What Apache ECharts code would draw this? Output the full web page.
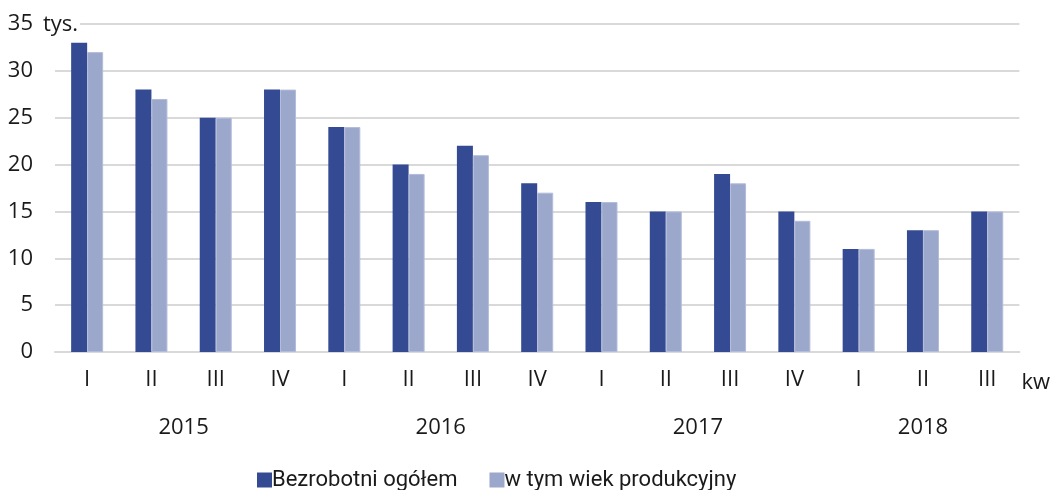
<!DOCTYPE html>
<html><head><meta charset="utf-8">
<script src="https://cdn.jsdelivr.net/npm/echarts@6/dist/echarts.min.js"></script>
<style>html,body{margin:0;padding:0;background:#fff}#c{width:1053px;height:490px}</style>
</head><body><div id="c"></div>
<script>
const quarters = ['I','II','III','IV','I','II','III','IV','I','II','III','IV','I','II','III'];
const years = ['2015','2016','2017','2018'];
const quartersPerYear = [4,4,4,3];
const yTicks = [0,5,10,15,20,25,30,35];
const bezrobotni = [33,28,25,28,24,20,22,18,16,15,19,15,11,13,15];
const wiekProdukcyjny = [32,27,25,28,24,19,21,17,16,15,18,14,11,13,15];

// year label positions = centre of each year's quarter span (in category units)
const yearPos = {};
let acc = 0;
quartersPerYear.forEach((n,i)=>{ yearPos[(acc + n/2).toFixed(1)] = years[i]; acc += n; });

const axisFont = {fontFamily:'Open Sans', fontSize:22, color:'#1a1a1a'};
const chart = echarts.init(document.getElementById('c'));
chart.setOption({
  animation:false,
  grid:{left:55, right:33, top:24, bottom:138},
  legend:{
    top:464, left:252, itemWidth:15, itemHeight:15, itemGap:32,
    icon:'rect', itemStyle:{borderWidth:0},
    textStyle:{fontFamily:'Roboto', fontSize:22, color:'#1a1a1a', padding:[0,0,0,-5]},
    data:['Bezrobotni ogółem','w tym wiek produkcyjny']
  },
  graphic:[{
    type:'text', left:41, top:14, z:100,
    style:{text:'tys.', font:'22px "Open Sans"', fill:'#1a1a1a', backgroundColor:'#fff', padding:[0,2,0,2]}
  }],
  xAxis:[{
    type:'category', data:quarters,
    axisLine:{lineStyle:{color:'#d9d9d9', width:2}},
    axisTick:{show:false},
    axisLabel:Object.assign({margin:17}, axisFont),
    name:'kw', nameLocation:'end', nameGap:2,
    nameTextStyle:Object.assign({}, axisFont, {verticalAlign:'top', padding:[20,0,0,0]})
  },{
    type:'value', min:0, max:quarters.length, interval:0.5, position:'bottom', offset:48,
    axisLine:{show:false}, axisTick:{show:false}, splitLine:{show:false},
    axisLabel:Object.assign({margin:17, formatter:v=>yearPos[v.toFixed(1)]||''}, axisFont)
  }],
  yAxis:{
    type:'value', min:0, max:35, interval:5,
    axisLine:{show:false}, axisTick:{show:false},
    splitLine:{lineStyle:{color:'#d9d9d9', width:2}},
    axisLabel:Object.assign({margin:22, formatter:v=>yTicks.includes(v)?String(v):''}, axisFont)
  },
  series:[{
    name:'Bezrobotni ogółem', type:'bar', data:bezrobotni, barWidth:16, barGap:'0%',
    itemStyle:{color:'#344a92'}
  },{
    name:'w tym wiek produkcyjny', type:'bar', data:wiekProdukcyjny, barWidth:16, barGap:'0%',
    itemStyle:{color:'#9ba7cb', borderColor:'#b3bcda', borderWidth:1}
  }]
});
</script></body></html>
